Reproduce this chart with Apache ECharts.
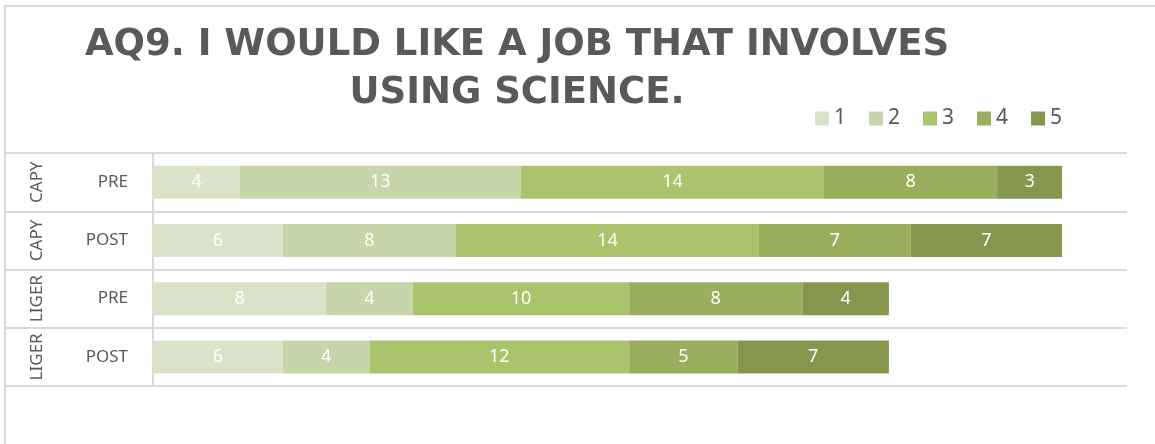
<!DOCTYPE html>
<html>
<head>
<meta charset="utf-8">
<script src="https://cdn.jsdelivr.net/npm/echarts@6/dist/echarts.min.js"></script>
<style>
html, body { margin: 0; padding: 0; background: #fff; }
#chart { width: 1155px; height: 444px; }
</style>
</head>
<body>
<div id="chart"></div>
<script>
// row labels (top to bottom)
var groups = ['CAPY', 'CAPY', 'LIGER', 'LIGER'];
var phases = ['PRE', 'POST', 'PRE', 'POST'];
// rating counts per row, one array per rating
var rating1 = [4, 6, 8, 6];
var rating2 = [13, 8, 4, 4];
var rating3 = [14, 14, 10, 12];
var rating4 = [8, 7, 8, 5];
var rating5 = [3, 7, 4, 7];
var ratingNames = ['1', '2', '3', '4', '5'];
var colors = ['#DAE3CA', '#C6D6AA', '#AAC46C', '#9AAF5D', '#85974F'];

var chart = echarts.init(document.getElementById('chart'));
var gridColor = '#D9D9D9';
var textColor = '#595959';
var allData = [rating1, rating2, rating3, rating4, rating5];

var series = allData.map(function (d, i) {
  return {
    name: ratingNames[i],
    type: 'bar',
    stack: 'total',
    barWidth: 33,
    data: d,
    itemStyle: { color: colors[i] },
    label: {
      show: true,
      position: 'inside',
      color: '#fff',
      fontFamily: 'Noto Sans',
      fontSize: 18
    }
  };
});

chart.setOption({
  animation: false,
  color: colors,
  title: {
    text: 'AQ9. I WOULD LIKE A JOB THAT INVOLVES\nUSING SCIENCE.',
    left: 512,
    textAlign: 'center',
    top: 16,
    textStyle: {
      fontFamily: 'DejaVu Sans',
      fontWeight: 'bold',
      fontSize: 37,
      lineHeight: 48,
      color: textColor
    }
  },
  legend: {
    left: 810,
    top: 103,
    itemWidth: 14,
    itemHeight: 14,
    itemGap: 23,
    icon: 'rect',
    textStyle: { fontFamily: 'Noto Sans', fontSize: 21, color: textColor },
    data: ratingNames
  },
  graphic: [{
    type: 'rect',
    shape: { x: 5, y: 6, width: 1300, height: 600 },
    style: { fill: 'none', stroke: gridColor, lineWidth: 2 },
    silent: true
  }],
  grid: { left: 153, right: 28, top: 153, bottom: 58 },
  xAxis: {
    type: 'value',
    min: 0,
    max: 45,
    show: false
  },
  yAxis: [{
    type: 'category',
    inverse: true,
    data: phases,
    axisLine: { show: true, lineStyle: { color: gridColor, width: 2 } },
    axisTick: { show: true, length: 148, interval: 0, lineStyle: { color: gridColor, width: 2 } },
    splitLine: { show: true, interval: 0, lineStyle: { color: gridColor, width: 2 } },
    axisLabel: {
      margin: 25,
      interval: 0,
      fontFamily: 'Noto Sans',
      fontSize: 17,
      color: textColor
    }
  }, {
    type: 'category',
    inverse: true,
    position: 'left',
    data: groups,
    axisLine: { show: false },
    axisTick: { show: false },
    axisLabel: {
      rotate: 90,
      interval: 0,
      hideOverlap: false,
      margin: 116,
      align: 'center',
      verticalAlign: 'middle',
      fontFamily: 'Noto Sans',
      fontSize: 17,
      color: textColor
    }
  }],
  series: series
});
</script>
</body>
</html>
